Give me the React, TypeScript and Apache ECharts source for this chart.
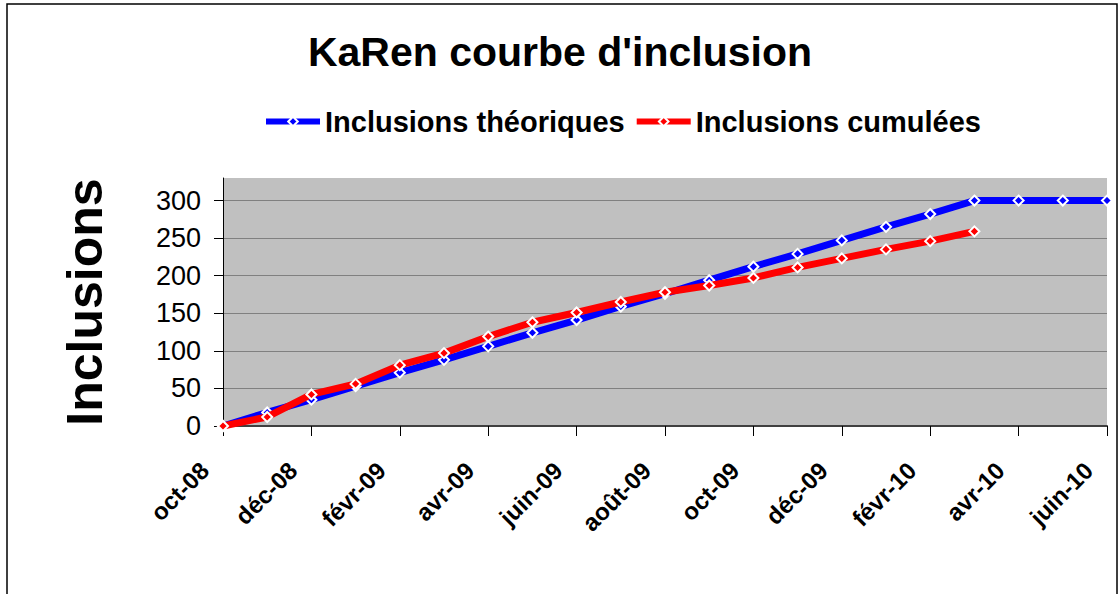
import React, { useEffect, useRef } from "react";
import * as echarts from "echarts";

const months = [
  "oct-08", "nov-08", "déc-08", "janv-09", "févr-09", "mars-09", "avr-09",
  "mai-09", "juin-09", "juil-09", "août-09", "sept-09", "oct-09", "nov-09",
  "déc-09", "janv-10", "févr-10", "mars-10", "avr-10", "mai-10", "juin-10",
];
const theoretical = [0, 18, 35, 53, 71, 88, 106, 124, 141, 159, 176, 194, 212, 229, 247, 265, 282, 300, 300, 300, 300];
const cumulated = [0, 12, 42, 56, 81, 97, 119, 138, 151, 165, 178, 187, 197, 211, 223, 235, 246, 259];
const yTicks = [0, 50, 100, 150, 200, 250, 300];
const titleText = "KaRen courbe d'inclusion";
const seriesNames = ["Inclusions théoriques", "Inclusions cumulées"];
const yName = "Inclusions";

const FONT = "'Liberation Sans', Arial, sans-serif";

export default function App() {
  const ref = useRef<HTMLDivElement>(null);
  useEffect(() => {
    if (!ref.current) return;
    const chart = echarts.init(ref.current, null, { renderer: "svg" });
    const marker = (color: string) => ({
      color,
      borderColor: "#ffffff",
      borderWidth: 2,
    });
    chart.setOption({
      animation: false,
      backgroundColor: "#ffffff",
      textStyle: { fontFamily: FONT },
      title: {
        text: titleText,
        left: "center",
        top: 26,
        textStyle: { fontFamily: FONT, fontSize: 41, fontWeight: "bold", color: "#000" },
      },
      legend: {
        left: 258,
        top: 102,
        itemWidth: 54,
        itemHeight: 12,
        itemGap: 9,
        lineStyle: { width: 6 },
        textStyle: { fontFamily: FONT, fontSize: 29, fontWeight: "bold", color: "#000" },
        data: seriesNames,
      },
      graphic: [
        {
          type: "rect",
          shape: { x: 7, y: 4, width: 1110, height: 620 },
          style: { fill: "none", stroke: "#000", lineWidth: 1.5 },
          silent: true,
          z: 100,
        },
      ],
      grid: {
        left: 223,
        top: 178,
        right: 13,
        bottom: 168,
        show: true,
        backgroundColor: "#C0C0C0",
        borderWidth: 0,
      },
      xAxis: {
        type: "category",
        data: months,
        boundaryGap: false,
        axisLine: { lineStyle: { color: "#404040", width: 2 } },
        axisTick: { interval: 1, length: 10, lineStyle: { color: "#000", width: 1 } },
        axisLabel: {
          interval: 1,
          rotate: 45,
          margin: 39,
          verticalAlign: "bottom",
          padding: [0, 14, 0, 0],
          fontFamily: FONT,
          fontSize: 24,
          fontWeight: "bold",
          color: "#000",
        },
        splitLine: { show: false },
      },
      yAxis: {
        type: "value",
        min: 0,
        max: 330,
        interval: 50,
        name: yName,
        nameLocation: "middle",
        nameRotate: 90,
        nameGap: 113,
        nameTextStyle: { fontFamily: FONT, fontSize: 50, fontWeight: "bold", color: "#000" },
        axisLine: { show: true, lineStyle: { color: "#000", width: 1 } },
        axisTick: { show: true, length: 9, customValues: yTicks, lineStyle: { color: "#000" } },
        axisLabel: {
          customValues: yTicks,
          margin: 22,
          fontFamily: FONT,
          fontSize: 27,
          color: "#000",
        },
        splitLine: {
          show: true,
          lineStyle: {
            color: ["#808080", "#808080", "#808080", "#808080", "#808080", "#808080", "#808080", "rgba(0,0,0,0)"],
            width: 1,
          },
        },
      },
      series: [
        {
          name: seriesNames[0],
          type: "line",
          data: theoretical,
          symbol: "diamond",
          symbolSize: 10,
          showAllSymbol: true,
          lineStyle: { color: "#0000FF", width: 7 },
          itemStyle: marker("#0000FF"),
          z: 2,
        },
        {
          name: seriesNames[1],
          type: "line",
          data: cumulated,
          symbol: "diamond",
          symbolSize: 10,
          showAllSymbol: true,
          lineStyle: { color: "#FF0000", width: 7 },
          itemStyle: marker("#FF0000"),
          z: 3,
        },
      ],
    });
    return () => chart.dispose();
  }, []);
  return (
    <div
      ref={ref}
      style={{ position: "absolute", left: 0, top: 0, width: 1120, height: 594 }}
    />
  );
}
